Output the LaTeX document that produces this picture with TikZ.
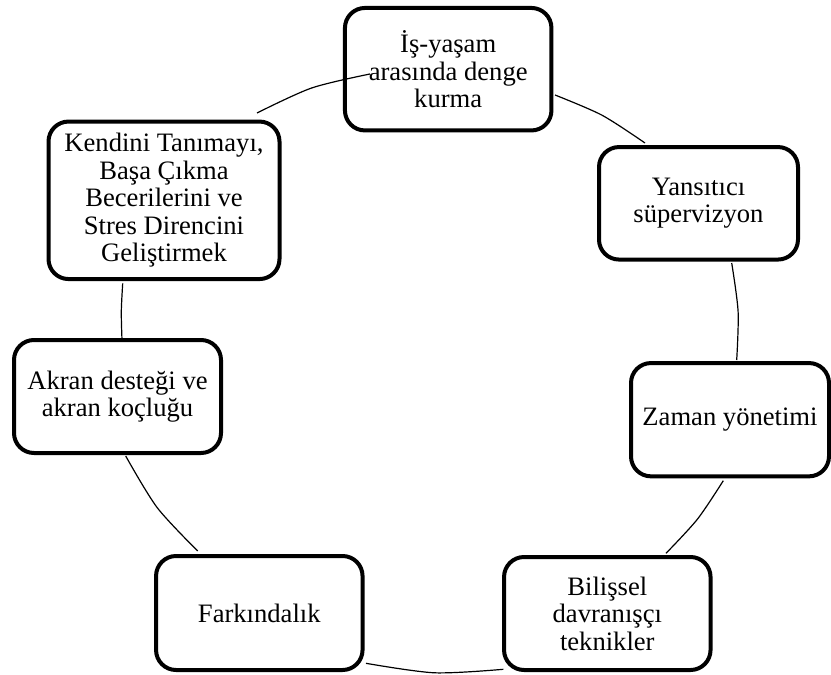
\documentclass[tikz,border=0pt]{standalone}
\usepackage{fontspec}
\setmainfont{Liberation Serif}
\begin{document}
\begin{tikzpicture}[x=1pt,y=-1pt,
  box/.style={draw, line width=4pt, rounded corners=20pt, fill=white, align=center,
              inner sep=0pt, font=\fontsize{26.6}{27.4}\selectfont},
  ring/.style={line width=1.2pt}]
\useasboundingbox (0,0) rectangle (831,675);

% boxes
\node[box, minimum width=206.5pt, minimum height=122.5pt] (wl)  at (448.2,69.2)  {İş-yaşam\\arasında denge\\kurma};
\node[box, minimum width=199pt,   minimum height=112.5pt] (ys)  at (698.5,203.3) {Yansıtıcı\\süpervizyon};
\node[box, minimum width=198pt,   minimum height=113.3pt] (zy)  at (730,419.7)   {Zaman yönetimi};
\node[box, minimum width=206.5pt, minimum height=113pt]   (bd)  at (607.3,613.5) {Bilişsel\\davranışçı\\teknikler};
\node[box, minimum width=206.5pt, minimum height=114pt]   (fk)  at (259.3,613)   {Farkındalık};
\node[box, minimum width=207pt,   minimum height=113pt]   (ak)  at (117.5,396.5) {Akran desteği ve\\akran koçluğu};
\node[box, minimum width=231pt,   minimum height=157.5pt] (kt)  at (164,200.3)   {Kendini Tanımayı,\\Başa Çıkma\\Becerilerini ve\\Stres Direncini\\Geliştirmek};

% arc end points
\coordinate (a1s) at (257,113);   \coordinate (a1m) at (311.6,88.0);  \coordinate (a1e) at (370,74);
\coordinate (a2s) at (555,95);    \coordinate (a2m) at (602,115.2);   \coordinate (a2e) at (645,143);
\coordinate (a3s) at (731.7,263); \coordinate (a3m) at (738.1,311.5); \coordinate (a3e) at (736.7,360);
\coordinate (a4s) at (723.3,480.7); \coordinate (a4m) at (697.4,519.2); \coordinate (a4e) at (666,553.3);
\coordinate (a5s) at (503.3,669.3); \coordinate (a5m) at (434.5,672.8); \coordinate (a5e) at (366,663.3);
\coordinate (a6s) at (197.7,551); \coordinate (a6m) at (157.1,507.5); \coordinate (a6e) at (125.7,456);
\coordinate (a7s) at (122,340);   \coordinate (a7m) at (121.3,311.6); \coordinate (a7e) at (122.7,283.3);

% arcs
\draw[ring] plot[smooth] coordinates {(a1s) (a1m) (a1e)};
\draw[ring] plot[smooth] coordinates {(a2s) (a2m) (a2e)};
\draw[ring] plot[smooth] coordinates {(a3s) (a3m) (a3e)};
\draw[ring] plot[smooth] coordinates {(a4s) (a4m) (a4e)};
\draw[ring] plot[smooth] coordinates {(a5s) (a5m) (a5e)};
\draw[ring] plot[smooth] coordinates {(a6s) (a6m) (a6e)};
\draw[ring] plot[smooth] coordinates {(a7s) (a7m) (a7e)};
\end{tikzpicture}
\end{document}
